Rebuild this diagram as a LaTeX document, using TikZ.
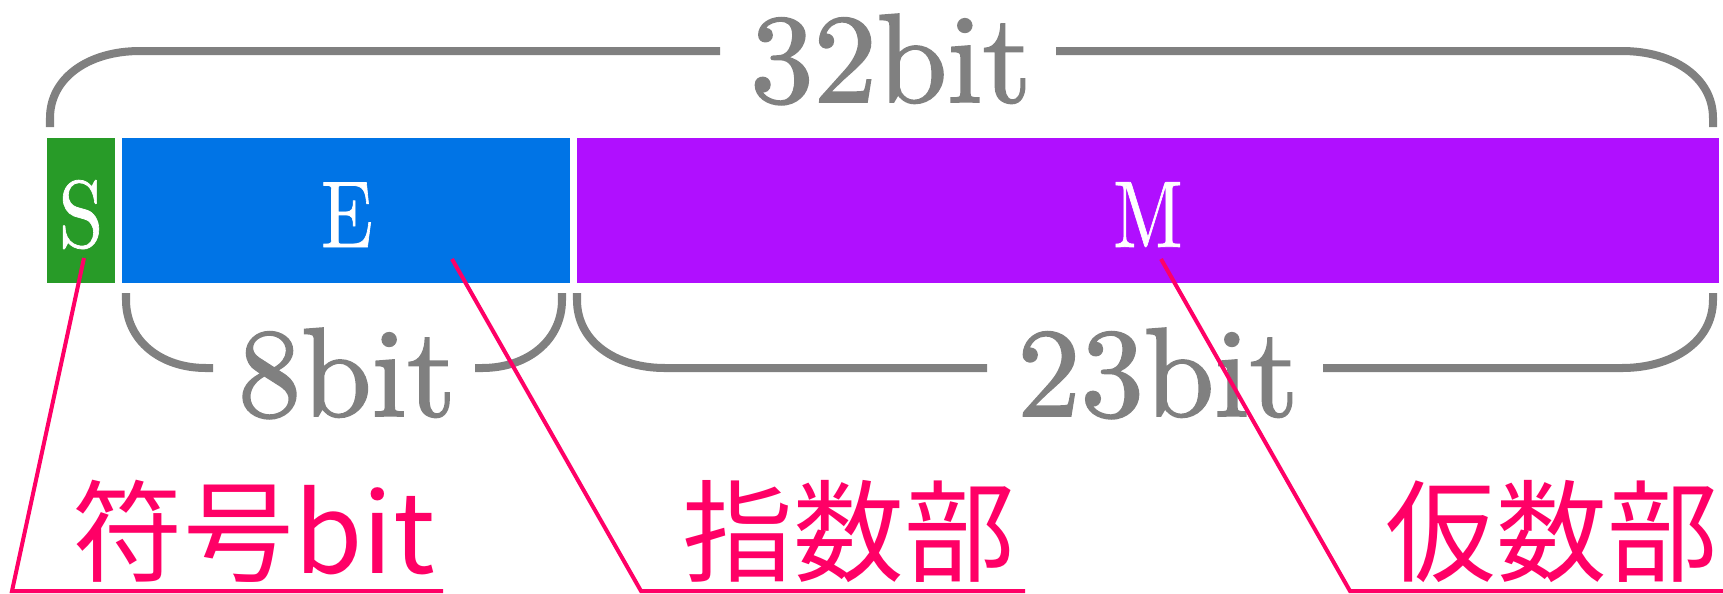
\documentclass[tikz,border=0pt]{standalone}
\usepackage{fontspec}
\usepackage{graphicx}
\newfontfamily\cjk{Noto Sans CJK JP}
\newfontfamily\lmheavy[FakeBold=1.5]{lmroman10-regular.otf}
\newfontfamily\lmletter[FakeBold=0.8]{lmroman10-regular.otf}
\usetikzlibrary{fit}
\definecolor{grayc}{HTML}{808080}
\definecolor{greenc}{HTML}{289B28}
\definecolor{bluec}{HTML}{0074E6}
\definecolor{purplec}{HTML}{B00FFF}
\definecolor{pinkc}{HTML}{FF0066}
\begin{document}
\begin{tikzpicture}[x=0.01cm,y=-0.01cm,
  brace/.style={draw=grayc, line width=2.28pt},
  lead/.style={draw=pinkc, line width=1.14pt},
  field/.style={inner sep=0pt, outer sep=0pt},
  letter/.style={text=white, font=\lmletter\fontsize{27}{30}\selectfont, anchor=base, inner sep=0pt},
  size/.style={text=grayc, font=\lmheavy\fontsize{36}{40}\selectfont, anchor=base, inner sep=0pt},
  partname/.style={text=pinkc, font=\cjk\fontsize{31.5}{34}\selectfont, anchor=base, inner sep=0pt}]
\useasboundingbox (0,0) rectangle (1723,593);
% fields
\node[field, fill=greenc, fit={(47,138) (115,283)}] (Sbox) {};
\node[field, fill=bluec, fit={(122,138) (570,283)}] (Ebox) {};
\node[field, fill=purplec, fit={(577,138) (1719,283)}] (Mbox) {};
\node[letter] (S) at (81,247) {\scalebox{0.85}[1]{S}};
\node[letter] (E) at (347,247) {\scalebox{0.8}[1]{E}};
\node[letter] (M) at (1148,247) {\scalebox{0.8}[1]{M}};
% top brace
\draw[brace] (50,127) -- (50,118) .. controls (50,78) and (88,51) .. (140,51) -- (720,51);
\draw[brace] (1056,51) -- (1622,51) .. controls (1674,51) and (1713,78) .. (1713,118) -- (1713,127);
\node[size] (L32) at (891,102) {32bit};
% 8bit brace
\draw[brace] (126,293) -- (126,300) .. controls (126,340) and (160,368) .. (206,368) -- (213,368);
\draw[brace] (475,368) -- (482,368) .. controls (528,368) and (562,340) .. (562,300) -- (562,293);
\node[size] (L8) at (347,416) {8bit};
% 23bit brace
\draw[brace] (577,293) -- (577,300) .. controls (577,342) and (616,368) .. (665,368) -- (987,368);
\draw[brace] (1323,368) -- (1622,368) .. controls (1672,368) and (1713,342) .. (1713,300) -- (1713,293);
\node[size] (L23) at (1158,416) {23bit};
% leaders
\coordinate (sA) at (84,258);
\coordinate (sB) at (12,591);
\coordinate (sC) at (443,591);
\coordinate (eA) at (452,259);
\coordinate (eB) at (641,591);
\coordinate (eC) at (1025,591);
\coordinate (mA) at (1161,259);
\coordinate (mB) at (1350,591);
\coordinate (mC) at (1723,591);
\draw[lead] (sA) -- (sB) -- (sC);
\draw[lead] (eA) -- (eB) -- (eC);
\draw[lead] (mA) -- (mB) -- (mC);
\node[partname] (nS) at (254,573) {符号bit};
\node[partname] (nE) at (849,573) {指数部};
\node[partname] (nM) at (1552,573) {仮数部};
\end{tikzpicture}
\end{document}
